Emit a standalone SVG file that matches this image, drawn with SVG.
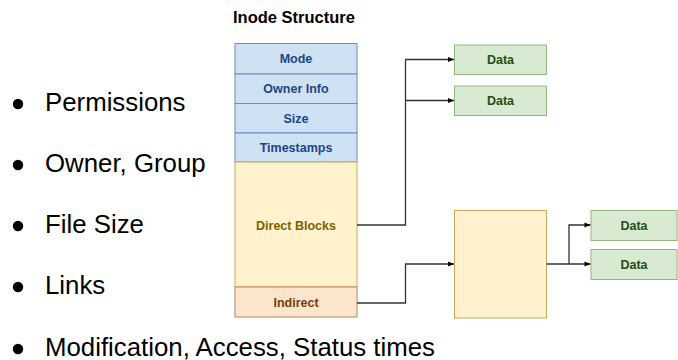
<svg xmlns="http://www.w3.org/2000/svg" width="678" height="360" viewBox="0 0 678 360">
  <defs>
    <style>
      .bullet { font-family: "Liberation Sans", Arial, sans-serif; font-size: 25.8px; fill: #000; }
      .lbl { font-family: "Liberation Sans", Arial, sans-serif; font-size: 12.5px; font-weight: bold; text-anchor: middle; }
      .meta rect { fill: #cfe2f3; stroke: #6c8ebf; stroke-width: 1; }
      .meta text { fill: #1c4587; }
      .direct rect { fill: #fff2cc; stroke: #c9a85a; stroke-width: 1; }
      .direct text { fill: #7f6000; }
      .indirect rect { fill: #fce5cd; stroke: #b9845a; stroke-width: 1; }
      .indirect text { fill: #783f04; }
      .data rect { fill: #d9ead3; stroke: #93b77f; stroke-width: 1; }
      .data text { fill: #274e13; }
      .edge { fill: none; stroke: #333; stroke-width: 1.3; marker-end: url(#arrow); }
    </style>
    <marker id="arrow" viewBox="0 0 10 10" refX="10" refY="5" markerWidth="8" markerHeight="6" markerUnits="userSpaceOnUse" orient="auto">
      <path d="M0,1 L10,5 L0,9 z" fill="#000"/>
    </marker>
  </defs>

  <rect width="678" height="360" fill="#fff"/>

  <!-- attribute list -->
  <g id="attributes">
    <circle cx="18" cy="104" r="5.2"/>
    <text class="bullet" x="45" y="111">Permissions</text>
    <circle cx="18" cy="165" r="5.2"/>
    <text class="bullet" x="45" y="172">Owner, Group</text>
    <circle cx="18" cy="226" r="5.2"/>
    <text class="bullet" x="45" y="233">File Size</text>
    <circle cx="18" cy="287" r="5.2"/>
    <text class="bullet" x="45" y="294">Links</text>
    <circle cx="18" cy="349" r="5.2"/>
    <text class="bullet" x="45" y="356">Modification, Access, Status times</text>
  </g>

  <text id="title" x="294" y="23" font-family="'Liberation Sans', Arial, sans-serif" font-size="16.5" font-weight="bold" text-anchor="middle" fill="#000">Inode Structure</text>

  <!-- inode table -->
  <g id="mode" class="meta">
    <rect x="235" y="43.5" width="122" height="30.5"/>
    <text class="lbl" x="296" y="63">Mode</text>
  </g>
  <g id="owner-info" class="meta">
    <rect x="235" y="74" width="122" height="29.5"/>
    <text class="lbl" x="296" y="93">Owner Info</text>
  </g>
  <g id="size" class="meta">
    <rect x="235" y="103.5" width="122" height="29.5"/>
    <text class="lbl" x="296" y="122.5">Size</text>
  </g>
  <g id="timestamps" class="meta">
    <rect x="235" y="133" width="122" height="29"/>
    <text class="lbl" x="296" y="152">Timestamps</text>
  </g>
  <g id="direct-blocks" class="direct">
    <rect x="235" y="162" width="122" height="125"/>
    <text class="lbl" x="296" y="229.5">Direct Blocks</text>
  </g>
  <g id="indirect" class="indirect">
    <rect x="235" y="287" width="122" height="30"/>
    <text class="lbl" x="296" y="306.5">Indirect</text>
  </g>

  <!-- data blocks -->
  <g id="data-1" class="data">
    <rect x="454.5" y="45" width="92" height="29.5"/>
    <text class="lbl" x="500.5" y="64">Data</text>
  </g>
  <g id="data-2" class="data">
    <rect x="454.5" y="86" width="92" height="29.5"/>
    <text class="lbl" x="500.5" y="105">Data</text>
  </g>
  <g id="indirect-block" class="direct">
    <rect x="454.5" y="210.5" width="92" height="107.5"/>
  </g>
  <g id="data-3" class="data">
    <rect x="591" y="210.5" width="86" height="30"/>
    <text class="lbl" x="634" y="229.5">Data</text>
  </g>
  <g id="data-4" class="data">
    <rect x="591" y="249.5" width="86" height="30"/>
    <text class="lbl" x="634" y="268.5">Data</text>
  </g>

  <!-- pointers -->
  <g id="connectors">
    <path class="edge" d="M357,225 H405.5 V59.5 H454"/>
    <path class="edge" d="M405.5,100.5 H454"/>
    <path class="edge" d="M357,303 H405.5 V264 H454"/>
    <path class="edge" d="M546.5,264 H590.5"/>
    <path class="edge" d="M569,264 V225 H590.5"/>
  </g>
</svg>
